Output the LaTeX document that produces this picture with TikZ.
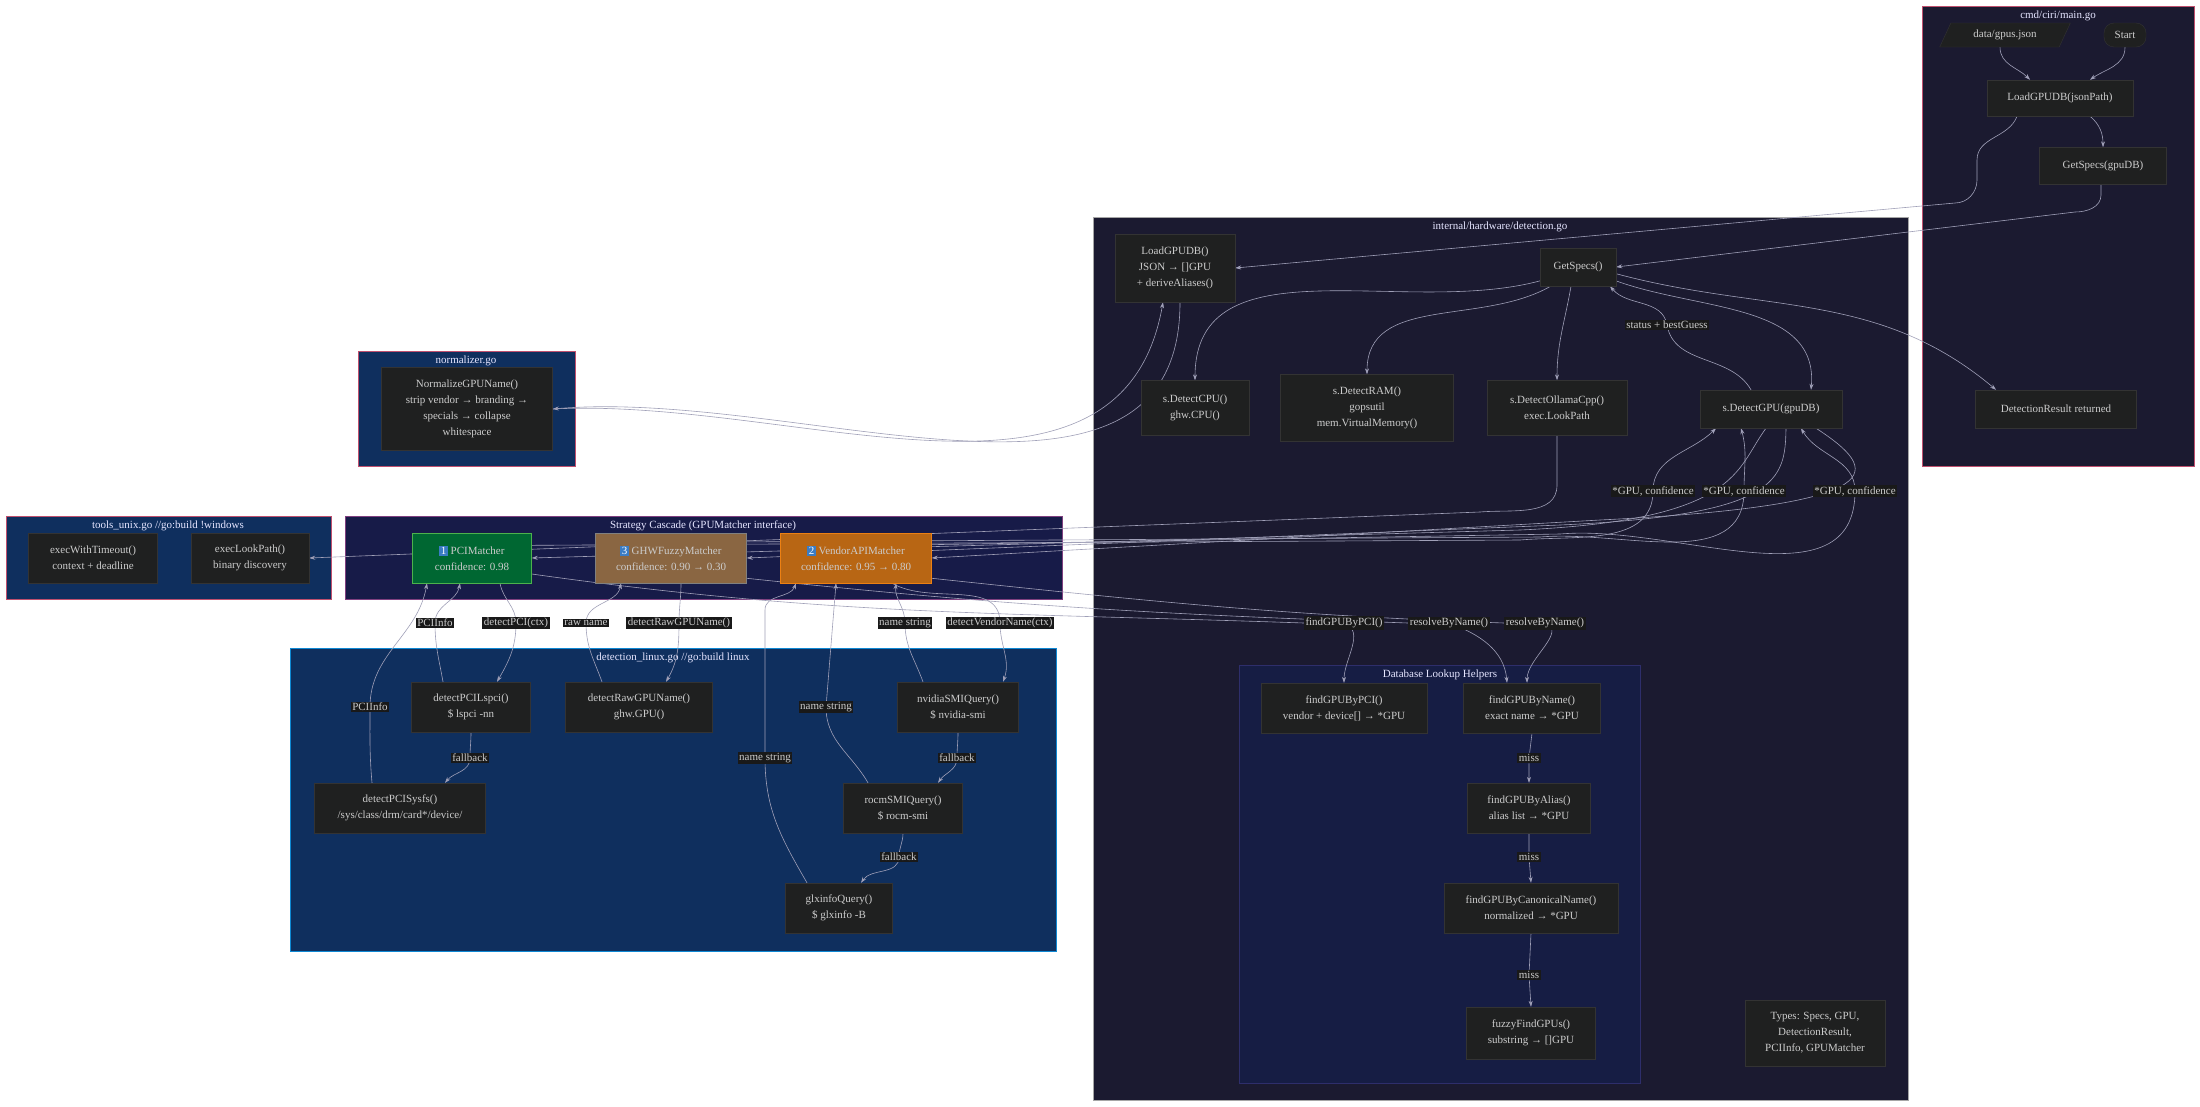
\documentclass[tikz,border=0pt]{standalone}
\usepackage{fontspec}
\setmainfont{Liberation Serif}
\usetikzlibrary{arrows.meta,calc,shapes.geometric}
\definecolor{bx}{HTML}{1F2020}
\definecolor{bxd}{HTML}{333333}
\definecolor{tx}{HTML}{CCCCCC}
\definecolor{ln}{HTML}{A0A0B8}
\definecolor{navy}{HTML}{1B1A30}
\definecolor{blu}{HTML}{0F2F5E}
\definecolor{pnk}{HTML}{C0506E}
\definecolor{casc}{HTML}{171B48}
\definecolor{dbl}{HTML}{161D44}
\definecolor{badgec}{HTML}{3A7CC4}
\newcommand\bdg[1]{{\setlength{\fboxsep}{1.5pt}\colorbox{badgec}{\textcolor{white}{#1}}}}
\pgfdeclarelayer{bg}\pgfdeclarelayer{edges}
\pgfsetlayers{bg,edges,main}
\begin{document}
\begin{tikzpicture}[x=1pt,y=-1pt,
  box/.style={draw=bxd,fill=bx,text=tx,align=center,inner sep=2pt,font=\fontsize{11}{16}\selectfont},
  e/.style={draw=ln,line width=0.6pt,-{Stealth[length=6pt,width=4pt]}},
  lbl/.style={fill=black!90,text=tx,inner sep=1.5pt,font=\fontsize{11}{13}\selectfont},
  clu/.style={line width=0.9pt},
  ctitle/.style={text=white!90!blue,font=\fontsize{11}{13}\selectfont,anchor=north}]
\useasboundingbox (0,0) rectangle (2200,1106);
% clusters
\begin{pgfonlayer}{bg}
\fill[white] (0,0) rectangle (2200,1106);
\draw[clu,draw=pnk,fill=navy] (1922,6) rectangle (2194,466);
\node[ctitle] at (2058,7) {cmd/ciri/main.go};
\draw[clu,draw=gray!70,fill=navy] (1093,217) rectangle (1908,1100);
\node[ctitle] at (1500,218) {internal/hardware/detection.go};
\draw[clu,draw=pnk,fill=blu] (358,351) rectangle (575,466);
\node[ctitle] at (466,352) {normalizer.go};
\draw[clu,draw=pnk,fill=blu] (6,516) rectangle (331,599);
\node[ctitle] at (168,517) {tools\_unix.go //go:build !windows};
\draw[clu,draw=violet!50!gray,fill=casc] (345,516) rectangle (1062,599);
\node[ctitle] at (703,517) {Strategy Cascade (GPUMatcher interface)};
\draw[clu,draw=cyan!70!blue,fill=blu] (290,648) rectangle (1056,951);
\node[ctitle] at (673,649) {detection\_linux.go //go:build linux};
\draw[clu,draw=blue!40!gray!60!black,fill=dbl] (1239,665) rectangle (1640,1083);
\node[ctitle] at (1440,666) {Database Lookup Helpers};
\end{pgfonlayer}
% nodes
\node[box,trapezium,trapezium left angle=65,trapezium right angle=115,minimum width=60,minimum height=24,inner xsep=0pt,inner ysep=2pt] (data) at (2005,35) {data/gpus.json};
\node[box,rounded corners=10pt,minimum width=42,minimum height=24] (start) at (2125,35) {Start};
\node[box,minimum width=146,minimum height=36] (lgj) at (2060,98) {LoadGPUDB(jsonPath)};
\node[box,minimum width=127,minimum height=37] (gs2) at (2103,166) {GetSpecs(gpuDB)};
\node[box,minimum width=161,minimum height=38] (res) at (2056,409) {DetectionResult returned};
\node[box,minimum width=120,minimum height=68] (lg) at (1175,268) {LoadGPUDB()\\JSON → []GPU\\+ deriveAliases()};
\node[box,minimum width=76,minimum height=38] (gs) at (1578,267) {GetSpecs()};
\node[box,minimum width=108,minimum height=55] (cpu) at (1195,408) {s.DetectCPU()\\ghw.CPU()};
\node[box,minimum width=173,minimum height=67] (ram) at (1367,408) {s.DetectRAM()\\gopsutil\\mem.VirtualMemory()};
\node[box,minimum width=140,minimum height=55] (oll) at (1557,408) {s.DetectOllamaCpp()\\exec.LookPath};
\node[box,minimum width=142,minimum height=38] (gpu) at (1771,409) {s.DetectGPU(gpuDB)};
\node[box,minimum width=171,minimum height=83] (norm) at (467,409) {NormalizeGPUName()\\strip vendor → branding →\\specials → collapse\\whitespace};
\node[box,minimum width=129,minimum height=50] (ewt) at (93,558) {execWithTimeout()\\context + deadline};
\node[box,minimum width=118,minimum height=50] (elp) at (250,558) {execLookPath()\\binary discovery};
\node[box,fill=green!35!teal!60!black,draw=green!40!gray,minimum width=119,minimum height=50] (pci) at (472,558) {\bdg{1} PCIMatcher\\confidence: 0.98};
\node[box,fill=brown!70!gray!80!black,draw=gray,minimum width=151,minimum height=50] (ghw) at (671,558) {\bdg{3} GHWFuzzyMatcher\\confidence: 0.90 → 0.30};
\node[box,fill=orange!60!brown!80!black,draw=orange!70!brown,minimum width=151,minimum height=50] (vam) at (856,558) {\bdg{2} VendorAPIMatcher\\confidence: 0.95 → 0.80};
\node[box,minimum width=119,minimum height=50] (lspci) at (471,707) {detectPCILspci()\\\$ lspci -nn};
\node[box,minimum width=147,minimum height=50] (raw) at (639,707) {detectRawGPUName()\\ghw.GPU()};
\node[box,minimum width=121,minimum height=50] (nv) at (958,707) {nvidiaSMIQuery()\\\$ nvidia-smi};
\node[box,minimum width=171,minimum height=50] (sysfs) at (400,808) {detectPCISysfs()\\/sys/class/drm/card*/device/};
\node[box,minimum width=119,minimum height=50] (rocm) at (903,808) {rocmSMIQuery()\\\$ rocm-smi};
\node[box,minimum width=107,minimum height=50] (glx) at (839,908) {glxinfoQuery()\\\$ glxinfo -B};
\node[box,minimum width=166,minimum height=50] (fpci) at (1344,708) {findGPUByPCI()\\vendor + device[] → *GPU};
\node[box,minimum width=137,minimum height=50] (fname) at (1532,708) {findGPUByName()\\exact name → *GPU};
\node[box,minimum width=123,minimum height=50] (falias) at (1529,808) {findGPUByAlias()\\alias list → *GPU};
\node[box,minimum width=174,minimum height=50] (fcan) at (1531,908) {findGPUByCanonicalName()\\normalized → *GPU};
\node[box,minimum width=129,minimum height=52] (ffuz) at (1531,1033) {fuzzyFindGPUs()\\substring → []GPU};
\node[box,minimum width=140,minimum height=66] (types) at (1815,1033) {Types: Specs, GPU,\\DetectionResult,\\PCIInfo, GPUMatcher};
% labels
\node[lbl] (lst) at (1667,325) {status + bestGuess};
\node[lbl] (lc1) at (1653,491) {*GPU, confidence};
\node[lbl] (lc2) at (1744,491) {*GPU, confidence};
\node[lbl] (lc3) at (1855,491) {*GPU, confidence};
\node[lbl] (lf1) at (1344,623) {findGPUByPCI()};
\node[lbl] (lr1) at (1449,623) {resolveByName()};
\node[lbl] (lr2) at (1545,623) {resolveByName()};
\node[lbl] (lpi1) at (435,623) {PCIInfo};
\node[lbl] (ldp) at (516,623) {detectPCI(ctx)};
\node[lbl] (lraw) at (586,623) {raw name};
\node[lbl] (ldr) at (679,623) {detectRawGPUName()};
\node[lbl] (lns1) at (905,623) {name string};
\node[lbl] (ldv) at (1000,623) {detectVendorName(ctx)};
\node[lbl] (lpi2) at (370,707) {PCIInfo};
\node[lbl] (lns2) at (826,707) {name string};
\node[lbl] (lns3) at (765,758) {name string};
\node[lbl] (lfb1) at (470,758) {fallback};
\node[lbl] (lfb2) at (957,758) {fallback};
\node[lbl] (lfb3) at (899,857) {fallback};
\node[lbl] (lm1) at (1529,758) {miss};
\node[lbl] (lm2) at (1529,857) {miss};
\node[lbl] (lm3) at (1529,975) {miss};
% edges
\begin{pgfonlayer}{edges}
\draw[e] ($(data.south)+(-5,0)$) to[out=-90,in=135] ($(lgj.north)+(-30,0)$);
\draw[e] (start.south) to[out=-90,in=35] ($(lgj.north)+(30,0)$);
\draw[e] ($(lgj.south)+(30,0)$) to[out=-40,in=90] (gs2.north);
\draw[e] ($(lgj.south)+(-43,0)$) to[out=-110,in=90] (1977,160) -- (1977,180) to[out=-90,in=0] (1955,203) -- (lg.east);
\draw[e] ($(gs2.south)+(-2,0)$) -- (2101,195) to[out=-90,in=0] (2075,212) -- (gs.east);
\draw[e] (gs.200) to[out=195,in=90] (cpu.north);
\draw[e] (gs.215) to[out=210,in=90] (ram.north);
\draw[e] (gs.250) to[out=-100,in=90] (oll.north);
\draw[e] (gs.-20) to[out=-20,in=85] ($(gpu.north)+(40,0)$);
\draw[e] (gs.-10) to[out=-15,in=140] ($(res.north)+(-60,0)$);
\draw[e] ($(gpu.north)+(-20,0)$) to[out=120,in=-80] (lst.center) to[out=100,in=-50] ($(gs.south)+(32,0)$);
\draw[e] ($(lg.south)+(5,0)$) to[out=-90,in=5] (norm.east);
\draw[e] (norm.east) to[out=3,in=-100] ($(lg.south)+(-12,0)$);
\draw[e] (oll.south) -- (1557,485) to[out=-90,in=5] (1480,512) -- (elp.east);
% gpu <-> matchers
\draw[e] ($(gpu.south)+(45,0)$) .. controls (1880,470) and (1900,505) .. (1600,520) -- (vam.east);
\draw[e] ($(gpu.south)+(15,0)$) .. controls (1785,480) and (1780,515) .. (1560,525) -- (ghw.east);
\draw[e] ($(gpu.south)+(-5,0)$) .. controls (1735,470) and (1740,520) .. (1520,530) -- (pci.east);
\draw[e] (vam.10) -- (1560,534) to[out=5,in=-90] (lc3.center) to[out=90,in=-60] ($(gpu.south)+(30,0)$);
\draw[e] (ghw.12) -- (1540,537) to[out=5,in=-90] (lc2.center) to[out=90,in=-75] ($(gpu.south)+(-30,0)$);
\draw[e] (pci.12) -- (1520,540) to[out=5,in=-90] (lc1.center) to[out=90,in=-135] ($(gpu.south)+(-55,0)$);
% matchers -> lookup
\draw[e] (pci.-15) to[out=-8,in=178] (lf1.west) -- (lf1.center) to[out=-20,in=90] (fpci.north);
\draw[e] (ghw.-15) to[out=-6,in=178] (lr1.west) -- (lr1.center) to[out=-20,in=95] ($(fname.north)+(-25,0)$);
\draw[e] (vam.-15) to[out=-6,in=178] (lr2.west) -- (lr2.center) to[out=-20,in=90] ($(fname.north)+(-5,0)$);
% linux
\draw[e] ($(pci.south)+(28,0)$) to[out=-80,in=90] (ldp.center) to[out=-90,in=60] ($(lspci.north)+(26,0)$);
\draw[e] ($(lspci.north)+(-28,0)$) to[out=100,in=-90] (lpi1.center) to[out=90,in=-100] ($(pci.south)+(-12,0)$);
\draw[e] ($(sysfs.north)+(-28,0)$) to[out=95,in=-90] (lpi2.center) to[out=90,in=-100] ($(pci.south)+(-45,0)$);
\draw[e] (lspci.south) to[out=-90,in=90] (lfb1.center) to[out=-90,in=50] ($(sysfs.north)+(45,0)$);
\draw[e] ($(ghw.south)+(10,0)$) to[out=-90,in=90] (ldr.center) to[out=-90,in=60] ($(raw.north)+(27,0)$);
\draw[e] ($(raw.north)+(-37,0)$) to[out=110,in=-90] (lraw.center) to[out=90,in=-100] ($(ghw.south)+(-50,0)$);
\draw[e] (vam.-35) to[out=-30,in=90] (ldv.center) to[out=-90,in=70] ($(nv.north)+(45,0)$);
\draw[e] ($(nv.north)+(-35,0)$) to[out=110,in=-90] (lns1.center) to[out=90,in=-95] ($(vam.south)+(40,0)$);
\draw[e] ($(rocm.north)+(-35,0)$) to[out=120,in=-90] (lns2.center) -- ($(vam.south)+(-20,0)$);
\draw[e] ($(glx.north)+(-32,0)$) to[out=120,in=-90] (lns3.center) -- (765,610) to[out=90,in=-110] ($(vam.south)+(-60,0)$);
\draw[e] (nv.south) to[out=-90,in=90] (lfb2.center) to[out=-90,in=55] ($(rocm.north)+(35,0)$);
\draw[e] (rocm.south) to[out=-90,in=90] (lfb3.center) to[out=-90,in=55] ($(glx.north)+(22,0)$);
% lookup chain
\draw[e] (fname.south) -- (lm1) -- (falias.north);
\draw[e] (falias.south) -- (lm2) -- (fcan.north);
\draw[e] (fcan.south) -- (lm3) -- (ffuz.north);
\end{pgfonlayer}
\end{tikzpicture}
\end{document}
